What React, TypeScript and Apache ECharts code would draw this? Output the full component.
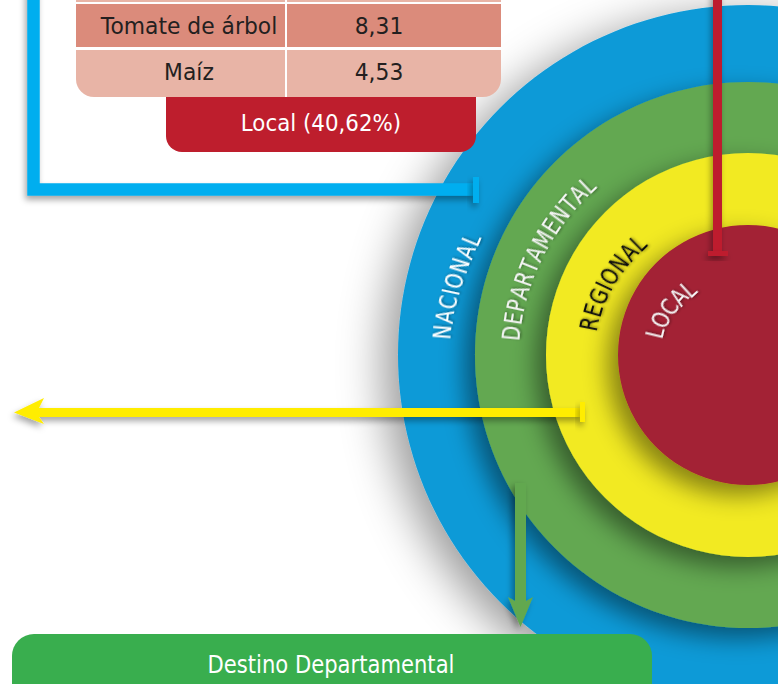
import React, { useEffect, useRef } from "react";
import * as echarts from "echarts";

// ---------- data ----------
const ringNames = ["NACIONAL", "DEPARTAMENTAL", "REGIONAL", "LOCAL"];
const ringSizes = [350, 273, 202, 130]; // relative ring sizes (outer radius, px at this scale)
const tableCrops = ["", "Tomate de árbol", "Maíz"];
const tableValues = ["", "8,31", "4,53"];
const localLabel = "Local (40,62%)";
const bannerLabel = "Destino Departamental";

// ---------- styles / layout ----------
const W = 778;
const H = 684;
const CENTER = [748, 355];
const ringColors = ["#0E9AD7", "#64A851", "#F2EA24", "#A32434"];
const ringLabelColors = ["#FFFFFF", "#F4F4F4", "#111111", "#F4F4F4"];
const labelArc = {
  startDeg: [175.7, 174.7, 168.9, 166.5],
  endDeg: [157.4, 133.4, 134.5, 132.2],
  startR: [306, 237, 161, 95],
  endR: [299, 233, 156, 88],
};
const rowColors = ["#E8B4A6", "#DB8B7B", "#E8B4A6"];
const FONT = "DejaVu Sans";

export default function App() {
  const ref = useRef<HTMLDivElement>(null);
  useEffect(() => {
    const el = ref.current!;
    const chart = echarts.init(el, null, { renderer: "svg", width: W, height: H });
    const [cx, cy] = CENTER;

    // ---- curved ring labels ----
    const ctx = document.createElement("canvas").getContext("2d")!;
    const labelSize = 24;
    const squeeze = 0.8;
    const graphics: any[] = [];
    ringNames.forEach((name, k) => {
      ctx.font = `${labelSize}px "${FONT}"`;
      const chars = Array.from(name);
      const widths = chars.map((c) => ctx.measureText(c).width);
      const centers: number[] = [];
      let acc = 0;
      widths.forEach((w) => {
        centers.push(acc + w / 2);
        acc += w;
      });
      const c0 = centers[0];
      const c1 = centers[centers.length - 1];
      chars.forEach((ch, i) => {
        const t = (centers[i] - c0) / (c1 - c0);
        const deg = labelArc.startDeg[k] + (labelArc.endDeg[k] - labelArc.startDeg[k]) * t;
        const R = labelArc.startR[k] + (labelArc.endR[k] - labelArc.startR[k]) * t;
        const a = (deg * Math.PI) / 180;
        graphics.push({
          type: "text",
          z: 60,
          silent: true,
          x: cx + R * Math.cos(a),
          y: cy - R * Math.sin(a),
          rotation: a - Math.PI / 2,
          scaleX: squeeze,
          style: {
            text: ch,
            fill: ringLabelColors[k],
            fontSize: labelSize,
            fontFamily: FONT,
            align: "center",
            verticalAlign: "middle",
            textShadowColor: "rgba(0,0,0,0.45)",
            textShadowBlur: 3,
            textShadowOffsetX: 1,
            textShadowOffsetY: 1,
          },
        });
      });
    });

    // ---- table ----
    const rowTops = [-40, 4, 50];
    const rowHeights = [42, 43, 47];
    const tableText = (text: string, x: number, y: number) => ({
      type: "text",
      z: 41,
      silent: true,
      x,
      y,
      scaleX: 0.95,
      style: { text, fill: "#231F20", fontSize: 23, fontFamily: FONT, align: "center", verticalAlign: "middle" },
    });
    tableCrops.forEach((crop, i) => {
      const last = i === tableCrops.length - 1;
      graphics.push({
        type: "rect",
        z: 40,
        silent: true,
        shape: { x: 76, y: rowTops[i], width: 209, height: rowHeights[i], r: last ? [0, 0, 0, 18] : 0 },
        style: { fill: rowColors[i] },
      });
      graphics.push({
        type: "rect",
        z: 40,
        silent: true,
        shape: { x: 287, y: rowTops[i], width: 214, height: rowHeights[i], r: last ? [0, 0, 18, 0] : 0 },
        style: { fill: rowColors[i] },
      });
      const ty = rowTops[i] + 22;
      if (crop) graphics.push(tableText(crop, 189, ty));
      if (tableValues[i]) graphics.push(tableText(tableValues[i], 379, ty));
    });

    // red tab
    graphics.push({
      type: "rect",
      z: 40,
      silent: true,
      shape: { x: 166, y: 97, width: 310, height: 55, r: [0, 0, 16, 16] },
      style: { fill: "#BE1E2D" },
    });
    graphics.push({
      type: "text",
      z: 41,
      silent: true,
      x: 321,
      y: 123,
      scaleX: 0.93,
      style: { text: localLabel, fill: "#FFFFFF", fontSize: 23, fontFamily: FONT, align: "center", verticalAlign: "middle" },
    });

    // blue frame
    const shadow = { shadowBlur: 6, shadowColor: "rgba(0,0,0,0.35)", shadowOffsetX: -2, shadowOffsetY: 4 };
    graphics.push({
      type: "polyline",
      z: 45,
      silent: true,
      shape: { points: [[33.5, -20], [33.5, 189.5], [474, 189.5]] },
      style: { stroke: "#00AEEF", lineWidth: 12.5, lineJoin: "miter", fill: null, ...shadow },
    });
    graphics.push({
      type: "rect",
      z: 46,
      silent: true,
      shape: { x: 473, y: 177, width: 6, height: 26 },
      style: { fill: "#00AEEF", ...shadow },
    });

    // red line
    graphics.push({
      type: "rect",
      z: 45,
      silent: true,
      shape: { x: 713, y: -10, width: 9, height: 263 },
      style: { fill: "#BE1E2D", ...shadow },
    });
    graphics.push({
      type: "rect",
      z: 46,
      silent: true,
      shape: { x: 708, y: 251, width: 20, height: 5 },
      style: { fill: "#BE1E2D", ...shadow },
    });

    // yellow arrow
    graphics.push({
      type: "polygon",
      z: 45,
      silent: true,
      shape: {
        points: [[14, 412.5], [44, 398], [39, 408], [582, 408], [582, 417], [39, 417], [44, 424]],
      },
      style: { fill: "#FFED00", ...shadow },
    });
    graphics.push({
      type: "rect",
      z: 46,
      silent: true,
      shape: { x: 580, y: 402, width: 5, height: 20 },
      style: { fill: "#FFED00", ...shadow },
    });

    // green arrow
    graphics.push({
      type: "polygon",
      z: 45,
      silent: true,
      shape: {
        points: [[515, 483], [526, 483], [526, 601], [533, 597], [520.5, 627], [508, 597], [515, 601]],
      },
      style: { fill: "#62A84F", shadowBlur: 6, shadowColor: "rgba(0,0,0,0.35)", shadowOffsetX: -3, shadowOffsetY: 3 },
    });

    // bottom banner
    graphics.push({
      type: "rect",
      z: 50,
      silent: true,
      shape: { x: 12, y: 634, width: 640, height: 80, r: [22, 22, 0, 0] },
      style: { fill: "#39AE4E" },
    });
    graphics.push({
      type: "text",
      z: 51,
      silent: true,
      x: 331,
      y: 665,
      scaleX: 0.88,
      style: { text: bannerLabel, fill: "#FFFFFF", fontSize: 24, fontFamily: FONT, align: "center", verticalAlign: "middle" },
    });

    const series = ringNames.map((name, i) => ({
      type: "pie",
      z: i + 1,
      silent: true,
      center: CENTER,
      radius: [0, ringSizes[i]],
      label: { show: false },
      labelLine: { show: false },
      emphasis: { disabled: true },
      itemStyle: {
        color: ringColors[i],
        borderWidth: 0,
        shadowBlur: i === 0 ? 45 : 24,
        shadowColor: i === 0 ? "rgba(0,0,0,0.4)" : "rgba(0,0,0,0.45)",
        shadowOffsetX: i === 0 ? -14 : -10,
        shadowOffsetY: 10,
      },
      data: [{ value: 1, name }],
    }));

    chart.setOption({
      animation: false,
      backgroundColor: "#FFFFFF",
      series,
      graphic: { elements: graphics },
    });
    return () => chart.dispose();
  }, []);
  return <div ref={ref} style={{ position: "fixed", left: 0, top: 0, width: W, height: H }} />;
}
